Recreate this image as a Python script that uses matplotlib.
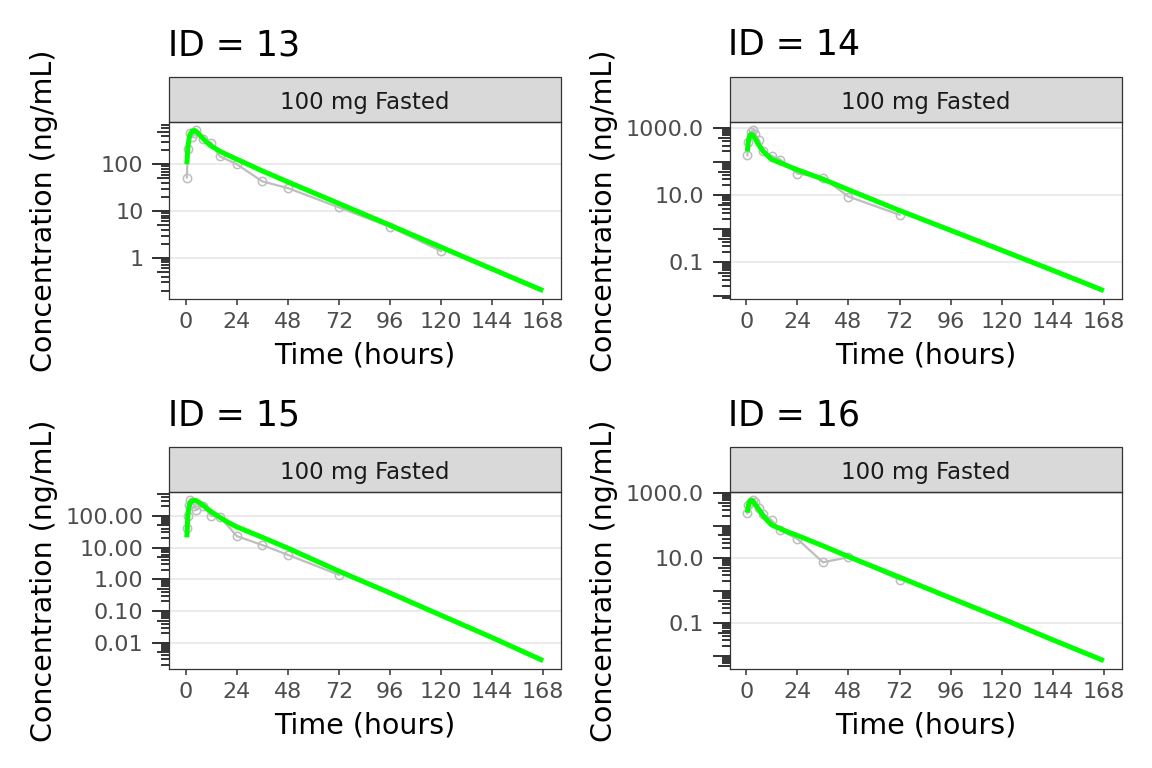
import numpy as np
import matplotlib
matplotlib.use("Agg")
import matplotlib.pyplot as plt
from matplotlib.patches import Rectangle
from matplotlib.lines import Line2D

# ---------------- data ----------------
panel_ids = [13, 14, 15, 16]
strip_label = "100 mg Fasted"
x_breaks = [0, 24, 48, 72, 96, 120, 144, 168]

obs_time_13 = [0.5, 1, 2, 3, 4, 5, 8, 12, 16, 24, 36, 48, 72, 96, 120]
obs_conc_13 = [52, 215, 460, 380, 475, 530, 345, 285, 148, 100, 43, 31, 12, 4.6, 1.4]

obs_time_14 = [0.5, 1, 2, 3, 4, 6, 8, 12, 16, 24, 36, 48, 72]
obs_conc_14 = [155, 380, 760, 850, 680, 430, 205, 148, 115, 44, 33, 9.1, 2.6]

obs_time_15 = [0.5, 1, 1.5, 2, 3, 4, 5, 8, 12, 16, 24, 36, 48, 72]
obs_conc_15 = [43, 100, 222, 310, 280, 206, 155, 210, 100, 95, 23, 12, 5.9, 1.38]

obs_time_16 = [0.5, 1, 2, 3, 4, 6, 8, 12, 16, 24, 36, 48, 72]
obs_conc_16 = [242, 435, 550, 600, 550, 345, 230, 145, 74, 39, 7.5, 10.7, 2.2]

pred_time = [0.5, 1, 1.5, 2, 3, 4, 5, 6, 8, 10, 12, 16, 20, 24, 36, 48, 72, 96, 120, 144, 168]
pred_conc_13 = [100, 230, 340, 430, 510, 525, 500, 450, 360, 290, 245, 190, 155, 128, 72, 42, 14.5, 5.0, 1.7, 0.58, 0.20]
pred_conc_14 = [200, 400, 560, 640, 620, 500, 390, 300, 200, 150, 115, 92, 72, 57, 30, 14.5, 3.5, 0.90, 0.23, 0.058, 0.0144]
pred_conc_15 = [21, 110, 190, 250, 300, 310, 300, 275, 220, 170, 135, 90, 62, 45, 21, 9.6, 1.8, 0.37, 0.073, 0.0145, 0.0027]
pred_conc_16 = [250, 420, 540, 600, 580, 470, 380, 310, 200, 140, 105, 80, 62, 50, 24, 11.2, 2.6, 0.60, 0.14, 0.031, 0.0071]

y_breaks_13 = [1, 10, 100]
y_labels_13 = ["1", "10", "100"]
y_breaks_14 = [0.1, 10, 1000]
y_labels_14 = ["0.1", "10.0", "1000.0"]
y_breaks_15 = [0.01, 0.1, 1, 10, 100]
y_labels_15 = ["0.01", "0.10", "1.00", "10.00", "100.00"]
y_breaks_16 = [0.1, 10, 1000]
y_labels_16 = ["0.1", "10.0", "1000.0"]

panels = [
    (obs_time_13, obs_conc_13, pred_conc_13, y_breaks_13, y_labels_13),
    (obs_time_14, obs_conc_14, pred_conc_14, y_breaks_14, y_labels_14),
    (obs_time_15, obs_conc_15, pred_conc_15, y_breaks_15, y_labels_15),
    (obs_time_16, obs_conc_16, pred_conc_16, y_breaks_16, y_labels_16),
]

# ---------------- layout ----------------
W, H = 1152, 768
fig = plt.figure(figsize=(W / 100, H / 100), dpi=100)
fig.patch.set_facecolor("white")

# pixel boxes: left, top, right, bottom
boxes = [
    (169.0, 122.3, 561.0, 298.7),
    (729.5, 122.3, 1121.7, 298.7),
    (169.0, 492.3, 561.0, 668.7),
    (729.5, 492.3, 1121.7, 668.7),
]
strip_h = 45.0
DARK = "#333333"

for (l, t, r, b), pid, (ot, oc, pc, yb, yl) in zip(boxes, panel_ids, panels):
    ax = fig.add_axes([l / W, 1 - b / H, (r - l) / W, (b - t) / H])
    ax_w_px = r - l
    ax_h_px = b - t
    ax.set_yscale("log")

    ax.plot(ot, oc, color="#BEBEBE", lw=1.6, marker="o", mfc="none",
            mec="#BEBEBE", ms=6, mew=1.1, zorder=3)
    ax.plot(pred_time, pc, color="#00FF00", lw=3.6, zorder=4,
            solid_joinstyle="round", solid_capstyle="butt")

    # limits like ggplot (5% expansion, log space for y)
    allt = list(ot) + list(pred_time)
    tmin, tmax = min(allt), max(allt)
    pad = 0.05 * (tmax - tmin)
    ax.set_xlim(tmin - pad, tmax + pad)
    ally = np.log10(list(oc) + list(pc))
    ymin, ymax = ally.min(), ally.max()
    ypad = 0.05 * (ymax - ymin)
    lo, hi = 10 ** (ymin - ypad), 10 ** (ymax + ypad)
    ax.set_ylim(lo, hi)

    ax.set_xticks(x_breaks)
    ax.set_xticklabels([str(v) for v in x_breaks])
    ax.set_yticks(yb)
    ax.set_yticklabels(yl)
    ax.yaxis.set_minor_locator(matplotlib.ticker.NullLocator())

    ax.grid(axis="y", which="major", color="#EBEBEB", lw=1.4)
    ax.grid(axis="x", visible=False)
    ax.set_axisbelow(True)

    ax.tick_params(axis="y", length=11.5, width=1.4, color=DARK, pad=6.8,
                   labelsize=16, labelcolor="#4D4D4D")
    ax.tick_params(axis="x", length=4.3, width=1.1, color=DARK, pad=5,
                   labelsize=16, labelcolor="#4D4D4D")
    for s in ax.spines.values():
        s.set_color(DARK)
        s.set_linewidth(0.9)

    # log ticks outside the panel
    ytr = ax.get_yaxis_transform()
    for k in range(int(np.floor(np.log10(lo))), int(np.ceil(np.log10(hi))) + 1):
        for m in range(1, 10):
            v = m * 10.0 ** k
            if lo <= v <= hi:
                Lpx = 16.0 if m == 1 else (11.0 if m == 5 else 6.7)
                ax.add_line(Line2D([-Lpx / ax_w_px, 0], [v, v], transform=ytr,
                                   clip_on=False, color=DARK, lw=1.4, zorder=5))

    # strip
    sh = strip_h / ax_h_px
    ax.add_patch(Rectangle((0, 1), 1, sh, transform=ax.transAxes, clip_on=False,
                           facecolor="#D9D9D9", edgecolor=DARK, lw=0.9, zorder=2))
    ax.text(0.5, 1 + sh / 2, strip_label, transform=ax.transAxes, ha="center",
            va="center_baseline", fontsize=16.5, color="#1A1A1A")

    ax.set_xlabel("Time (hours)", fontsize=20.5, color="black")
    ax.xaxis.label.set_va("baseline")
    ax.xaxis.set_label_coords(0.5, -64.6 / ax_h_px)
    ax.set_ylabel("Concentration (ng/mL)", fontsize=20.5, color="black")
    ax.yaxis.set_label_coords(-111.0 / ax_w_px, 0.5)

    fig.text((l - 1) / W, 1 - (t - 67.3) / H, f"ID = {pid}", fontsize=25,
             ha="left", va="baseline", color="black")

fig.savefig("out.png", dpi=100, facecolor="white")
